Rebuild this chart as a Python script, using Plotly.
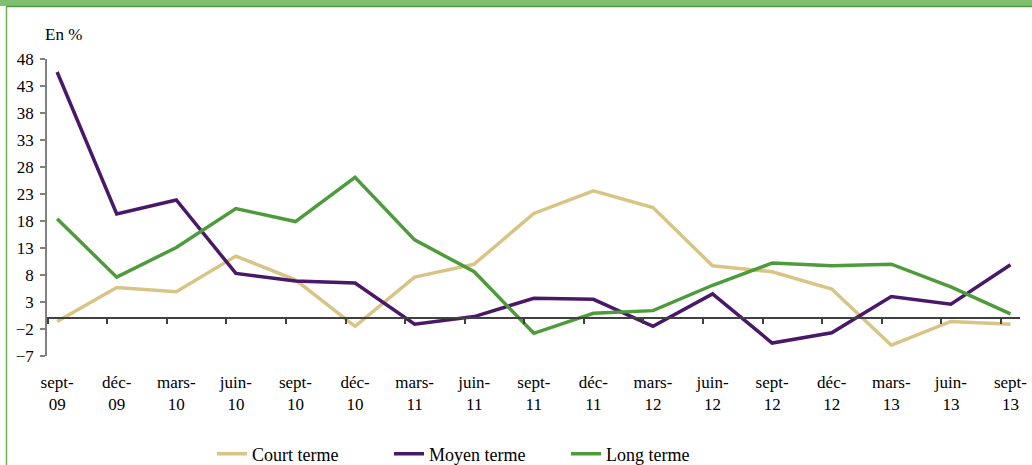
import plotly.graph_objects as go

# Quarterly labels and values (in %)
labels = ["sept-<br>09", "déc-<br>09", "mars-<br>10", "juin-<br>10", "sept-<br>10", "déc-<br>10",
          "mars-<br>11", "juin-<br>11", "sept-<br>11", "déc-<br>11", "mars-<br>12", "juin-<br>12",
          "sept-<br>12", "déc-<br>12", "mars-<br>13", "juin-<br>13", "sept-<br>13"]
court_terme = [-0.6, 5.7, 4.9, 11.5, 7.1, -1.5, 7.6, 10.0, 19.4, 23.6, 20.5, 9.7,
               8.6, 5.4, -5.0, -0.6, -1.1]
moyen_terme = [45.6, 19.3, 21.9, 8.3, 6.9, 6.5, -1.1, 0.3, 3.7, 3.5, -1.5, 4.5,
               -4.6, -2.7, 4.0, 2.6, 9.9]
long_terme = [18.4, 7.6, 13.1, 20.3, 17.9, 26.1, 14.5, 8.6, -2.8, 0.9, 1.4, 6.1,
              10.2, 9.7, 10.0, 5.8, 0.8]

x = list(range(len(labels)))
W, H = 1032, 465
ML, MR, MT, MB = 47, 12, 59, 109
PW, PH = W - ML - MR, H - MT - MB
YMIN, YMAX = -7, 48
XR = [-0.17, len(labels) - 1 + 0.16]
FONT = "Liberation Serif, Times New Roman, serif"

fig = go.Figure()
series = [("Court terme", court_terme, "#d8c485"),
          ("Moyen terme", moyen_terme, "#4a1868"),
          ("Long terme", long_terme, "#4e9b3c")]
for name, vals, col in series:
    fig.add_trace(go.Scatter(x=x, y=vals, name=name, mode="lines",
                             line=dict(color=col, width=3.5)))

# invisible trace so the zero-line axis gets drawn
fig.add_trace(go.Scatter(x=x, y=court_terme, xaxis="x2", mode="lines",
                         line=dict(width=0), opacity=0, showlegend=False,
                         hoverinfo="skip"))

px2x = lambda p: (p - ML) / PW
px2y = lambda p: 1 - (p - MT) / PH

fig.update_layout(
    width=W, height=H,
    margin=dict(l=ML, r=MR, t=MT, b=MB, autoexpand=False),
    paper_bgcolor="white", plot_bgcolor="white",
    font=dict(family=FONT, size=16, color="black"),
    xaxis=dict(range=XR, tickvals=x, ticktext=labels, showgrid=False,
               zeroline=False, showline=False, ticks="", automargin=False,
               ticklabelstandoff=14, tickfont=dict(size=17)),
    xaxis2=dict(range=XR, overlaying="x", anchor="free", automargin=False,
                position=(0 - YMIN) / (YMAX - YMIN),
                showline=True, linecolor="#404040", linewidth=1.5,
                ticks="outside", ticklen=5, tickcolor="#404040", tickwidth=1.5,
                tick0=0.84, dtick=1, showticklabels=False, showgrid=False,
                zeroline=False),
    yaxis=dict(range=[YMIN, YMAX], tick0=YMIN, dtick=5, showgrid=False,
               zeroline=False, showline=True, linecolor="#808080", linewidth=1.5,
               ticks="outside", ticklen=5, tickcolor="#808080", tickwidth=1.5,
               automargin=False, ticklabelstandoff=3, tickfont=dict(size=17)),
    legend=dict(orientation="h", x=px2x(212), xanchor="left",
                y=px2y(454), yanchor="middle",
                entrywidth=132, entrywidthmode="pixels",
                font=dict(size=18), bgcolor="rgba(0,0,0,0)"),
    annotations=[dict(text="En %", xref="paper", yref="paper",
                      x=px2x(43), y=px2y(35), xanchor="left", yanchor="middle",
                      showarrow=False, font=dict(size=17))],
    shapes=[
        dict(type="rect", xref="paper", yref="paper", x0=px2x(0), x1=px2x(W),
             y0=px2y(6), y1=px2y(0), fillcolor="#7fbf6f", line=dict(width=0),
             layer="above"),
        dict(type="line", xref="paper", yref="paper", x0=px2x(6), x1=px2x(W),
             y0=px2y(6.5), y1=px2y(6.5), line=dict(color="#4f9a3d", width=1.5)),
        dict(type="line", xref="paper", yref="paper", x0=px2x(6.5), x1=px2x(6.5),
             y0=px2y(H), y1=px2y(6), line=dict(color="#6ab04c", width=1.5)),
    ],
    showlegend=True,
)

fig.write_html("out.html", config={"displayModeBar": False},
               post_script="document.body.style.margin='0';document.body.style.padding='0';")
